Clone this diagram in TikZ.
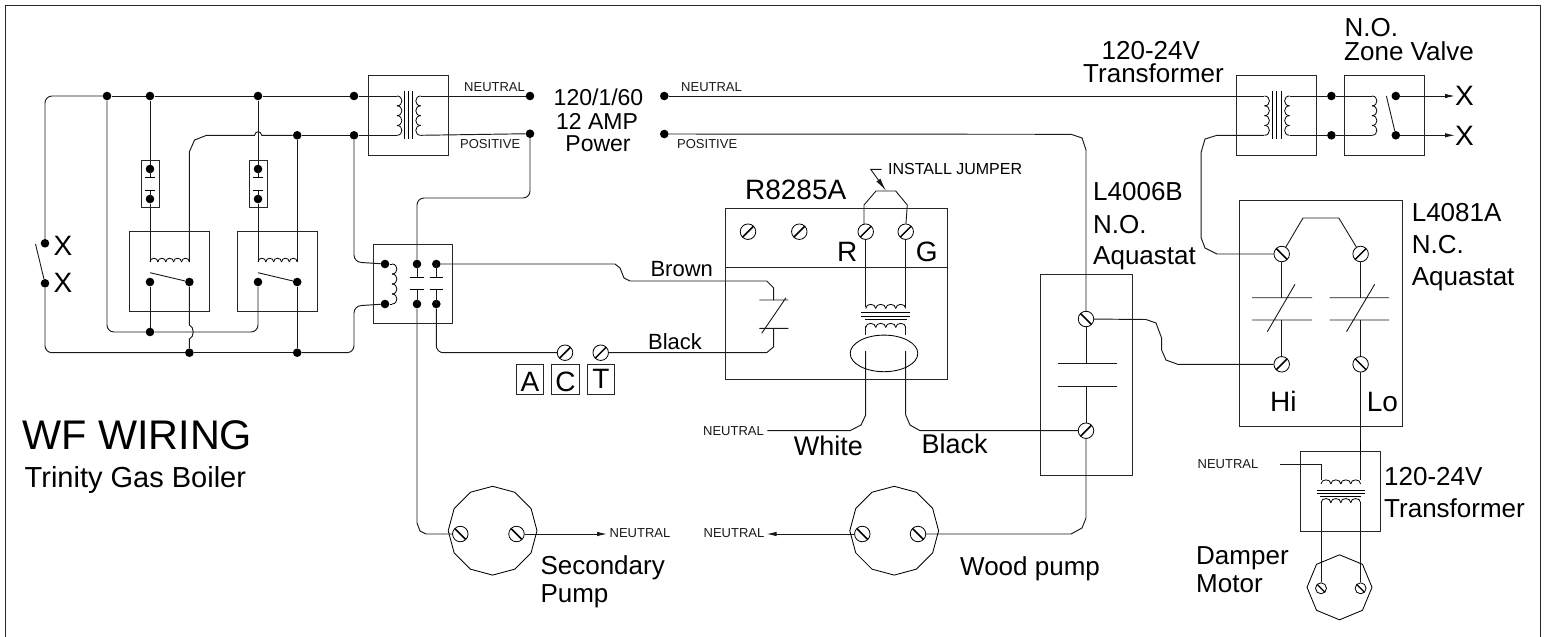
\documentclass[tikz,border=0pt]{standalone}
\usepackage{fontspec}
\setmainfont{Liberation Sans}
\usetikzlibrary{arrows.meta,shapes.geometric,backgrounds}
\newcommand{\FS}[1]{\fontsize{#1}{#1}\selectfont}
% vertical coil: x, y1, y2, humps, control offset
\newcommand{\vcoil}[5]{%
  \pgfmathsetmacro\cstp{(#3-#2)/#4}%
  \pgfmathsetmacro\cctl{#1+#5}%
  \pgfmathtruncatemacro\clast{#4-1}%
  \foreach \ci in {0,...,\clast}{%
    \pgfmathsetmacro\ca{#2+\ci*\cstp}%
    \pgfmathsetmacro\cb{#2+(\ci+1)*\cstp}%
    \draw[coilline] (#1,\ca) .. controls (\cctl,\ca) and (\cctl,\cb) .. (#1,\cb);
  }}
% horizontal coil: y, x1, x2, humps, control offset
\newcommand{\hcoil}[5]{%
  \pgfmathsetmacro\cstp{(#3-#2)/#4}%
  \pgfmathsetmacro\cctl{#1+#5}%
  \pgfmathtruncatemacro\clast{#4-1}%
  \foreach \ci in {0,...,\clast}{%
    \pgfmathsetmacro\ca{#2+\ci*\cstp}%
    \pgfmathsetmacro\cb{#2+(\ci+1)*\cstp}%
    \draw[coilline] (\ca,#1) .. controls (\ca,\cctl) and (\cb,\cctl) .. (\cb,#1);
  }}
\tikzset{
  wire/.style={line width=0.95pt,black!90},
  thinwire/.style={line width=0.9pt,black!90},
  coilline/.style={line width=0.8pt,black},
  rnd/.style={rounded corners=7pt},
  box/.style={draw,line width=0.95pt,black!85,inner sep=0,rectangle},
  jdot/.style={circle,fill=black,inner sep=0,minimum size=8.6pt},
  term/.style={circle,draw,line width=0.8pt,fill=white,inner sep=0,minimum size=#1},
  term/.default=15.5pt,
  tf/.style={term,path picture={\draw[line width=1.5pt] (path picture bounding box.south west) -- (path picture bounding box.north east);}},
  tb/.style={term,path picture={\draw[line width=1.5pt] (path picture bounding box.north west) -- (path picture bounding box.south east);}},
  tbs/.style={term=11pt,path picture={\draw[line width=1.3pt] (path picture bounding box.north west) -- (path picture bounding box.south east);}},
  pump/.style={draw,line width=0.85pt,regular polygon,regular polygon sides=12,shape border rotate=15,minimum size=88.8pt,inner sep=0},
  octa/.style={draw,line width=0.85pt,regular polygon,regular polygon sides=8,shape border rotate=22.5,minimum size=65pt,inner sep=0},
  lab/.style={font=\FS{26},inner sep=0,anchor=base west},
  labc/.style={font=\FS{#1},inner sep=0,anchor=base},
  sm/.style={font=\FS{13},inner sep=0,text=black!90},
  tip/.style={-{Latex[length=10pt,width=4.5pt]}},
}
\begin{document}
\begin{tikzpicture}[x=1pt,y=-1pt]
\useasboundingbox (0,0) rectangle (1545,637);
% ---------- boxes
\node[box,minimum width=79.5pt,minimum height=79.5pt] (xf1) at (408.7,115.5) {};
\node[box,minimum width=79.5pt,minimum height=79.3pt] (xf2) at (1276.5,115.6) {};
\node[box,minimum width=80pt,minimum height=79.3pt] (zone) at (1384.4,115.6) {};
\node[box,minimum width=17.8pt,minimum height=46.6pt] (fuse1) at (150.5,184) {};
\node[box,minimum width=18pt,minimum height=46.6pt] (fuse2) at (258.3,184) {};
\node[box,minimum width=79.4pt,minimum height=79.7pt] (rel1) at (169.6,271.2) {};
\node[box,minimum width=79.6pt,minimum height=79.7pt] (rel2) at (277.5,271.2) {};
\node[box,minimum width=79.4pt,minimum height=79.4pt] (cont) at (413,283.7) {};
\node[box,minimum width=222.3pt,minimum height=171pt] (rbox) at (836.2,293.8) {};
\node[box,minimum width=92.4pt,minimum height=200.7pt] (l4006) at (1086.2,375.3) {};
\node[box,minimum width=163pt,minimum height=226pt] (l4081) at (1321,313.7) {};
\node[box,minimum width=79.5pt,minimum height=79.6pt] (xf3) at (1340.7,491.5) {};
\node[box,minimum width=27.4pt,minimum height=29.6pt] (ba) at (530,379.5) {};
\node[box,minimum width=27.6pt,minimum height=29.6pt] (bc) at (565.5,379.5) {};
\node[box,minimum width=27.4pt,minimum height=29.6pt] (bt) at (601,379.5) {};
\node[pump] (pump1) at (492.6,530.7) {};
\node[pump] (pump2) at (894.2,530.7) {};
\node[octa] (motor) at (1339.5,587.3) {};
% ---------- junction dots
\foreach \n/\x/\y in {t1/107/96,t2/150/96,t3/258/96,t4/354/96,p1/297.2/135.3,p2/354/135.3,
  xa/45/243.3,xb/45/283.3,b1/189.4/352.7,b2/297.2/352.7,
  f1a/150/169,f1b/150/199,f2a/258/169,f2b/258/199,
  r1c/150/282,r1d/189.4/282,r2c/258/282,r2d/297.2/282,m1/150/332,
  c1/385/264,c2/385/304,c3/417/264,c4/436.3/264,c5/417/304,c6/436.3/304,
  pwl1/530/96,pwl2/530/133.7,pwr1/664.3/96,pwr2/664.3/134,
  zd1/1331.4/96,zd2/1331.4/135.3,zc1/1395.8/96,zc2/1395.8/135.3}
  {\node[jdot] (\n) at (\x,\y) {};}
% ---------- screw terminals
\node[tf] (tC) at (565,352.7) {};
\node[tf] (tT) at (600.7,352.7) {};
\node[tf] (s1) at (748,231.7) {};
\node[tf] (s2) at (799.3,231.7) {};
\node[tf] (sR) at (865.7,231.7) {};
\node[tf] (sG) at (905.7,231.7) {};
\node[tb] (a1) at (1086,319) {};
\node[tf] (a2) at (1086,430.7) {};
\node[tb] (n1) at (1281.7,254) {};
\node[tf] (n2) at (1360.6,254) {};
\node[tf] (n3) at (1281.7,364.3) {};
\node[tb] (n4) at (1360.6,364.3) {};
\node[tb] (pl1) at (460.3,534) {};
\node[tb] (pr1) at (516.5,534) {};
\node[tb] (pl2) at (862.3,534) {};
\node[tb] (pr2) at (918,534) {};
\node[tbs] (ml) at (1321,588.3) {};
\node[tbs] (mr) at (1360.6,588.3) {};
% ---------- named free ends
\foreach \n/\x/\y in {tl1/397/96,tl2/397/135.3,tr1/420.7/96,tr2/420.7/135.3,
  r1a/150/262,r1b/189.4/262,r2a/258/262,r2b/297.2/262,
  nr1/1264/96,nr2/1264/135.3,sr1/1289.5/96,sr2/1289.5/135.3,zv1/1372/96,zv2/1372/135.3,
  xx1/1455/96,xx2/1455/135.3,
  brT/773.7/300,brB/773.7/328.3,
  up1/865.7/307,up2/905.7/307,lo1/865.7/326,lo2/905.7/326,
  el1/865.7/351,el2/905.7/351,
  nn1/767.3/430.7,nn2/607/534,nn3/766.5/534,
  ct1/1281.7/297.7,ct2/1360.6/297.7,cb1/1281.7/320,cb2/1360.6/320,
  aq1/1086/363.7,aq2/1086/386.7,
  x3a/1321/480,x3b/1360.6/480,x3c/1321/501.5,x3d/1360.6/501.5,x3n/1280/464.7,
  ja1/864/223,ja2/906/223,ar1/881.7/169.3,ar2/870.7/169.3,ar3/886/190.7}
  {\coordinate (\n) at (\x,\y);}
% ---------- frame and wiring
\begin{scope}[on background layer]
\draw[line width=1.1pt,black!85] (5.5,637) -- (5.5,5.3) -- (1540.5,5.3) -- (1540.5,637);
\draw[wire,rnd] (xa) -- (45,96) -- (t1);
\draw[wire] (t1) -- (t2);\draw[wire] (t2) -- (t3);\draw[wire] (t3) -- (t4);\draw[wire] (t4) -- (tl1);
\draw[wire] (tl2) -- (p2);\draw[wire] (p2) -- (p1);
\draw[wire] (p1) -- (261.8,135.3) .. controls (260.5,130.5) and (255.8,130.5) .. (254.5,135.3)
  -- (206.6,135.3) -- (194.6,140) -- (189.4,151.7) -- (r1b);
\draw[wire] (t2) -- (f1a);\draw[wire] (f1b) -- (r1a);
\draw[wire] (t3) -- (f2a);\draw[wire] (f2b) -- (r2a);
\draw[wire] (p1) -- (r2b);
\draw[wire,rnd] (t1) -- (107,332) -- (m1);
\draw[wire] (m1) -- (r1c);
\draw[wire,rnd] (m1) -- (258,332) -- (r2c);
\draw[wire] (r1d) -- (189.4,325) .. controls (194.5,327) and (194.5,337) .. (189.4,339) -- (b1);
\draw[wire] (r2d) -- (b2);
\draw[wire,rnd] (xb) -- (45,352.7) -- (b1);
\draw[wire] (b1) -- (b2);
\draw[wire,rnd] (b2) -- (354,352.7) -- (354,306) -- (c2);
\draw[wire,rnd] (p2) -- (354,262) -- (c1);
\draw[wire,rnd] (pwl2) -- (530,198) -- (417,198) -- (c3);
\draw[wire] (tr1) -- (pwl1);
\draw[wire] (tr2) -- (pwl2);
\draw[wire] (pwr1) -- (nr1);
\draw[wire] (pwr2) -- (1071,134.3) -- (1082,138) -- (1086,150) -- (a1);
\draw[wire] (c4) -- (615,264) -- (620,268) -- (624,278) -- (630,281) -- (766.7,281) -- (773.7,288) -- (brT);
\draw[wire] (brB) -- (773.7,346.7) -- (766.7,352.7) -- (tT);
\draw[wire,rnd] (c6) -- (436.3,352.7) -- (tC);
\draw[wire] (c5) -- (417,523) -- (420,531) -- (426,534) -- (pl1);
\draw[wire] (sR) -- (up1);\draw[wire] (sG) -- (up2);
\draw[wire] (lo1) -- (865.7,335);\draw[wire] (lo2) -- (905.7,335);
\draw[wire] (el1) -- (865.7,415) -- (861,425) -- (850,430.7) -- (nn1);
\draw[wire] (el2) -- (905.7,415) -- (910,425) -- (920,430.7) -- (a2);
\draw[wire] (a1) -- (aq1);\draw[wire] (aq2) -- (a2);
\draw[wire] (a2) -- (1086,518) -- (1082,528) -- (1071,534) -- (pr2);
\draw[wire] (a1) -- (1146,319.5) -- (1156,323) -- (1161.6,338) -- (1161.6,350) -- (1166,360) -- (1177.7,364.3) -- (n3);
\draw[wire] (nr2) -- (1217,135.3) -- (1205,139) -- (1201.2,152) -- (1201.2,238) -- (1205,248) -- (1217,254) -- (n1);
\draw[wire] (sr1) -- (zd1);\draw[wire] (zd1) -- (zv1);
\draw[wire] (sr2) -- (zd2);\draw[wire] (zd2) -- (zv2);
\draw[wire,tip] (zc1) -- (xx1);
\draw[wire,tip] (zc2) -- (xx2);
\draw[wire,tip] (pr1) -- (nn2);
\draw[wire,tip] (pl2) -- (nn3);
\draw[wire] (n1) -- (ct1);\draw[wire] (cb1) -- (n3);
\draw[wire] (n2) -- (ct2);\draw[wire] (cb2) -- (n4);
\draw[wire] (n4) -- (x3b);
\draw[line width=1.6pt] (1360.6,441) -- (1360.6,455);
\draw[wire] (x3n) -- (1321,464.7) -- (x3a);
\draw[wire] (x3c) -- (ml);
\draw[wire] (x3d) -- (mr);
\draw[thinwire] (ja1) -- (864,205) -- (876,191) -- (895.7,191) -- (907.3,205) -- (ja2);
\draw[thinwire] (ja1) -- (sR);\draw[thinwire] (ja2) -- (sG);
\draw[thinwire,-{Latex[length=13pt,width=5pt]}] (ar1) -- (ar2) -- (ar3);
\draw[thinwire] (n1) -- (1303,218) -- (1338.8,218) -- (n2);
\end{scope}
% ---------- coils and transformer cores
\vcoil{397}{96}{135.3}{4}{6.5}
\vcoil{420.7}{96}{135.3}{4}{-6.5}
\vcoil{1264.5}{96}{135.3}{4}{6.5}
\vcoil{1289.5}{96}{135.3}{4}{-6.5}
\vcoil{1372}{96}{135.3}{4}{6.5}
\vcoil{392}{264}{304}{4}{6.5}
\draw[coilline] (c1) -- (392,264);\draw[coilline] (c2) -- (392,304);
\hcoil{262}{150}{189.4}{5}{-5}
\hcoil{262}{258}{297.2}{5}{-5}
\hcoil{308.5}{865.7}{905.7}{4}{-5.5}
\hcoil{327.5}{865.7}{905.7}{4}{-5.5}
\hcoil{484}{1321}{1360.6}{4}{-5.5}
\hcoil{502.7}{1321}{1360.6}{4}{-5.5}
\foreach \xc in {404.3,408.7,412.7,1272.3,1276.7,1281}{\draw[line width=0.9pt] (\xc,91) -- (\xc,139.3);}
\draw[line width=0.9pt] (861,312) -- (910,312) (861,316) -- (910,316) (865,319.5) -- (907,319.5);
\draw[line width=0.9pt] (1316.6,490.7) -- (1365,490.7) (1316.6,493.5) -- (1365,493.5) (1320,496.5) -- (1361,496.5);
\node[draw,line width=0.85pt,ellipse,minimum width=67.6pt,minimum height=36.6pt,inner sep=0] (coilring) at (884,353.4) {};
% ---------- fuses, contacts
\foreach \xb in {150,258}{
  \draw[wire] (\xb,169) -- (\xb,177.7);\draw[wire] (\xb,199) -- (\xb,190.7);
  \draw[line width=0.9pt] (\xb-4.7,177.7) -- (\xb+4.7,177.7) (\xb-4.7,190.7) -- (\xb+4.7,190.7);}
\draw[thinwire] (150,272.7) -- (r1d);
\draw[thinwire] (258,272.7) -- (r2d);
\draw[thinwire] (35.5,244) -- (xb);
\draw[thinwire] (1386.4,96) -- (zc2);
\foreach \xb in {417,436.3}{
  \draw[wire] (\xb,264) -- (\xb,277.7);\draw[wire] (\xb,304) -- (\xb,289);
  \draw[line width=1pt] (\xb-6.7,277.7) -- (\xb+6.7,277.7) (\xb-6.7,289) -- (\xb+6.7,289);}
\draw[thinwire] (759.3,300) -- (788.3,300) (759.3,328.3) -- (788.3,328.3) (786,297.7) -- (761.7,333.3);
\draw[thinwire] (1252.2,297.7) -- (1312,297.7) (1252.2,320) -- (1312,320) (1295,284.3) -- (1267.3,331.7);
\draw[thinwire] (1329.7,297.7) -- (1389.1,297.7) (1329.7,320) -- (1389.1,320) (1374.7,284.3) -- (1346.5,331.7);
\draw[thinwire] (1057.6,363.7) -- (1117.3,363.7) (1057.6,386.7) -- (1117.3,386.7);
\draw[line width=0.95pt,black!85] (rbox.west |- 0,267.7) -- (rbox.east |- 0,267.7);
% ---------- texts
\node[lab,font=\FS{28}] (txa) at (53.5,255) {X};
\node[lab,font=\FS{28}] (txb) at (53.5,292.5) {X};
\node[lab,font=\FS{28}] (txc) at (1455,105.7) {X};
\node[lab,font=\FS{28}] (txd) at (1455,145) {X};
\node[sm,anchor=base west] (tn1) at (464,91.5) {NEUTRAL};
\node[sm,anchor=base west] (tp1) at (460,148) {POSITIVE};
\node[sm,anchor=base west] (tn2) at (681,91.5) {NEUTRAL};
\node[sm,anchor=base west] (tp2) at (677,148) {POSITIVE};
\node[labc=23] (pw1) at (598.5,105.5) {120/1/60};
\node[labc=23] (pw2) at (597,129) {12 AMP};
\node[labc=23] (pw3) at (598,151.5) {Power};
\node[lab] (tx1) at (1101.5,59.3) {120-24V};
\node[lab] (tx2) at (1083,82.7) {Transformer};
\node[lab] (tz1) at (1344.5,36.7) {N.O.};
\node[lab] (tz2) at (1344,60.7) {Zone Valve};
\node[lab] (tl4a) at (1093,200.7) {L4006B};
\node[lab] (tl4b) at (1093,233.3) {N.O.};
\node[lab] (tl4c) at (1093,264) {Aquastat};
\node[lab] (tl8a) at (1411.6,221.7) {L4081A};
\node[lab] (tl8b) at (1411.6,253.3) {N.C.};
\node[lab] (tl8c) at (1411.6,285) {Aquastat};
\node[labc=28] (tr8) at (795.7,199) {R8285A};
\node[labc=28] (tR) at (847.3,261) {R};
\node[labc=28] (tG) at (926.7,261) {G};
\node[labc=22] (tbr) at (681.7,276) {Brown};
\node[labc=22] (tbl) at (675,349.5) {Black};
\node[labc=27] (twh) at (828.3,455.5) {White};
\node[labc=27] (tbk) at (954.7,453) {Black};
\node[labc=28] (ta) at (530,391.5) {A};
\node[labc=28] (tc) at (565.5,391.5) {C};
\node[labc=28] (tt) at (601,388.5) {T};
\node[labc=28] (thi) at (1283.4,411) {Hi};
\node[labc=28] (tlo) at (1382.4,411) {Lo};
\node[font=\FS{16},inner sep=0,anchor=base west] (tij) at (888,174.5) {INSTALL JUMPER};
\node[sm] (tn3) at (733.5,431) {NEUTRAL};
\node[sm] (tn4) at (640,533.5) {NEUTRAL};
\node[sm] (tn5) at (734,533.5) {NEUTRAL};
\node[sm] (tn6) at (1228,464.5) {NEUTRAL};
\node[lab] (tsp1) at (540.3,574) {Secondary};
\node[lab] (tsp2) at (540.3,602.7) {Pump};
\node[lab] (twp) at (960,575) {Wood pump};
\node[lab] (tdm1) at (1196,564.3) {Damper};
\node[lab] (tdm2) at (1196,592.7) {Motor};
\node[lab] (tt3a) at (1384,485.7) {120-24V};
\node[lab] (tt3b) at (1384,517.7) {Transformer};
\node[lab,font=\FS{41.4}] (twf) at (22,449.5) {WF WIRING};
\node[lab,font=\FS{29}] (ttg) at (24.5,487) {Trinity Gas Boiler};
\end{tikzpicture}
\end{document}
